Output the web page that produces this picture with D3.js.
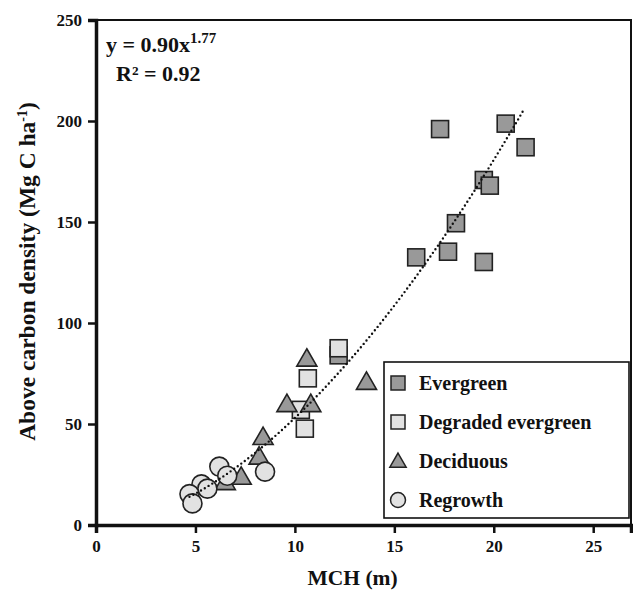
<!DOCTYPE html>
<html>
<head>
<meta charset="utf-8">
<script src="https://cdn.jsdelivr.net/npm/d3@7"></script>
<style>
  body { margin: 0; background: #fff; }
  svg text { font-family: "Liberation Serif", "Times New Roman", serif; font-weight: bold; fill: #111; }
</style>
</head>
<body>
<svg id="chart"></svg>
<script>
// Data: [MCH (m), carbon density (Mg C/ha)]
const evergreen = [
  [17.3, 196], [20.6, 198.7], [21.6, 187], [19.5, 170.8], [19.8, 168],
  [18.1, 149.4], [17.7, 135.3], [16.1, 132.5], [19.5, 130.2], [12.2, 84]
];
const degraded = [[12.2, 87.5], [10.65, 72.6], [10.3, 57], [10.5, 47.7]];
const deciduous = [
  [10.6, 82.5], [13.6, 71], [9.6, 60], [10.8, 60], [8.4, 43.7],
  [8.2, 34], [7.3, 24], [6.5, 21.4]
];
const regrowth = [
  [8.5, 26.4], [6.2, 28.9], [6.6, 24.4], [5.3, 20.1], [5.6, 18],
  [4.7, 15.3], [4.85, 10.7]
];

// Power fit shown on the chart
const fitA = 0.90;
const fitB = 1.77;
const fitRange = [4.7, 21.5];

const xTicks = [0, 5, 10, 15, 20, 25];
const yTicks = [0, 50, 100, 150, 200, 250];

const legendItems = ["Evergreen", "Degraded evergreen", "Deciduous", "Regrowth"];

// Chart dimensions
const width = 633;
const height = 592;
const margin = { top: 20, right: 2, bottom: 67, left: 96 };
const innerW = width - margin.left - margin.right;
const innerH = height - margin.top - margin.bottom;

const svg = d3.select("#chart")
  .attr("width", width)
  .attr("height", height);

const x = d3.scaleLinear().domain([0, 26.9]).range([margin.left, margin.left + innerW]);
const y = d3.scaleLinear().domain([0, 250]).range([margin.top + innerH, margin.top]);

// Frame (top and right)
svg.append("rect")
  .attr("x", margin.left)
  .attr("y", margin.top)
  .attr("width", innerW)
  .attr("height", innerH)
  .attr("fill", "none")
  .attr("stroke", "#111")
  .attr("stroke-width", 2);

// Axes
const xAxis = svg.append("g")
  .attr("transform", `translate(0,${margin.top + innerH})`)
  .call(d3.axisBottom(x).tickValues(xTicks).tickSize(8).tickPadding(7));
const yAxis = svg.append("g")
  .attr("transform", `translate(${margin.left},0)`)
  .call(d3.axisLeft(y).tickValues(yTicks).tickSize(8).tickPadding(6));

[xAxis, yAxis].forEach(g => {
  g.select(".domain").attr("stroke", "#111").attr("stroke-width", 3.5);
  g.selectAll(".tick line").attr("stroke", "#111").attr("stroke-width", 2.5);
  g.selectAll(".tick text")
    .style("font-family", "'Liberation Serif', 'Times New Roman', serif")
    .style("font-weight", "bold")
    .style("font-size", "17px")
    .attr("fill", "#111");
});

// Axis titles
svg.append("text")
  .attr("x", x(12.9))
  .attr("y", 585)
  .attr("text-anchor", "middle")
  .style("font-size", "21.5px")
  .text("MCH (m)");

const yTitle = svg.append("text")
  .attr("transform", `translate(35,${y(125.5)}) rotate(-90)`)
  .attr("text-anchor", "middle")
  .style("font-size", "23.5px");
yTitle.append("tspan").text("Above carbon density (Mg C ha");
yTitle.append("tspan").attr("dy", -8).style("font-size", "14px").text("-1");
yTitle.append("tspan").attr("dy", 8).text(")");

// Markers
const squareSize = 17;
const sym = d3.symbol();

function drawSquares(data, fill) {
  svg.append("g").selectAll("rect")
    .data(data)
    .enter()
    .append("rect")
    .attr("x", d => x(d[0]) - squareSize / 2)
    .attr("y", d => y(d[1]) - squareSize / 2)
    .attr("width", squareSize)
    .attr("height", squareSize)
    .attr("fill", fill)
    .attr("stroke", "#222")
    .attr("stroke-width", 1.6);
}

drawSquares(evergreen, "#999999");
drawSquares(degraded, "#e2e2e2");

svg.append("g").selectAll("path")
  .data(deciduous)
  .enter()
  .append("path")
  .attr("d", sym.type(d3.symbolTriangle).size(175)())
  .attr("transform", d => `translate(${x(d[0])},${y(d[1]) + 2})`)
  .attr("fill", "#999999")
  .attr("stroke", "#222")
  .attr("stroke-width", 1.6);

svg.append("g").selectAll("circle")
  .data(regrowth)
  .enter()
  .append("circle")
  .attr("cx", d => x(d[0]))
  .attr("cy", d => y(d[1]))
  .attr("r", 9.5)
  .attr("fill", "#e2e2e2")
  .attr("stroke", "#222")
  .attr("stroke-width", 1.6);

// Trend line (dotted)
const fitPts = d3.range(fitRange[0], fitRange[1] + 0.001, 0.1).map(v => [v, fitA * Math.pow(v, fitB)]);
svg.append("path")
  .datum(fitPts)
  .attr("d", d3.line().x(d => x(d[0])).y(d => y(d[1])))
  .attr("fill", "none")
  .attr("stroke", "#111")
  .attr("stroke-width", 2.4)
  .attr("stroke-linecap", "round")
  .attr("stroke-dasharray", "0,4.4");

// Equation
const eq = svg.append("text").attr("x", 106).attr("y", 52).style("font-size", "22px");
eq.append("tspan").text("y = 0.90x");
eq.append("tspan").attr("dy", -9).style("font-size", "15px").text(fitB.toFixed(2));
svg.append("text").attr("x", 116).attr("y", 81).style("font-size", "22px").text("R² = 0.92");

// Legend
const legend = svg.append("g");
legend.append("rect")
  .attr("x", 384)
  .attr("y", 362)
  .attr("width", 245)
  .attr("height", 156)
  .attr("fill", "#fff")
  .attr("stroke", "#111")
  .attr("stroke-width", 1.6);

const legendY = d3.scalePoint().domain(legendItems).range([383, 500]);
const lx = 398;
const ls = 14;

legendItems.forEach((name, i) => {
  const cy = legendY(name);
  if (i < 2) {
    legend.append("rect")
      .attr("x", lx - ls / 2).attr("y", cy - ls / 2)
      .attr("width", ls).attr("height", ls)
      .attr("fill", i === 0 ? "#999999" : "#e2e2e2")
      .attr("stroke", "#222").attr("stroke-width", 1.5);
  } else if (i === 2) {
    legend.append("path")
      .attr("d", sym.type(d3.symbolTriangle).size(115)())
      .attr("transform", `translate(${lx},${cy + 1.5})`)
      .attr("fill", "#999999")
      .attr("stroke", "#222").attr("stroke-width", 1.5);
  } else {
    legend.append("circle")
      .attr("cx", lx).attr("cy", cy).attr("r", 7.5)
      .attr("fill", "#e2e2e2")
      .attr("stroke", "#222").attr("stroke-width", 1.5);
  }
  legend.append("text")
    .attr("x", 419)
    .attr("y", cy + 7)
    .style("font-size", "20px")
    .text(name);
});
</script>
</body>
</html>
